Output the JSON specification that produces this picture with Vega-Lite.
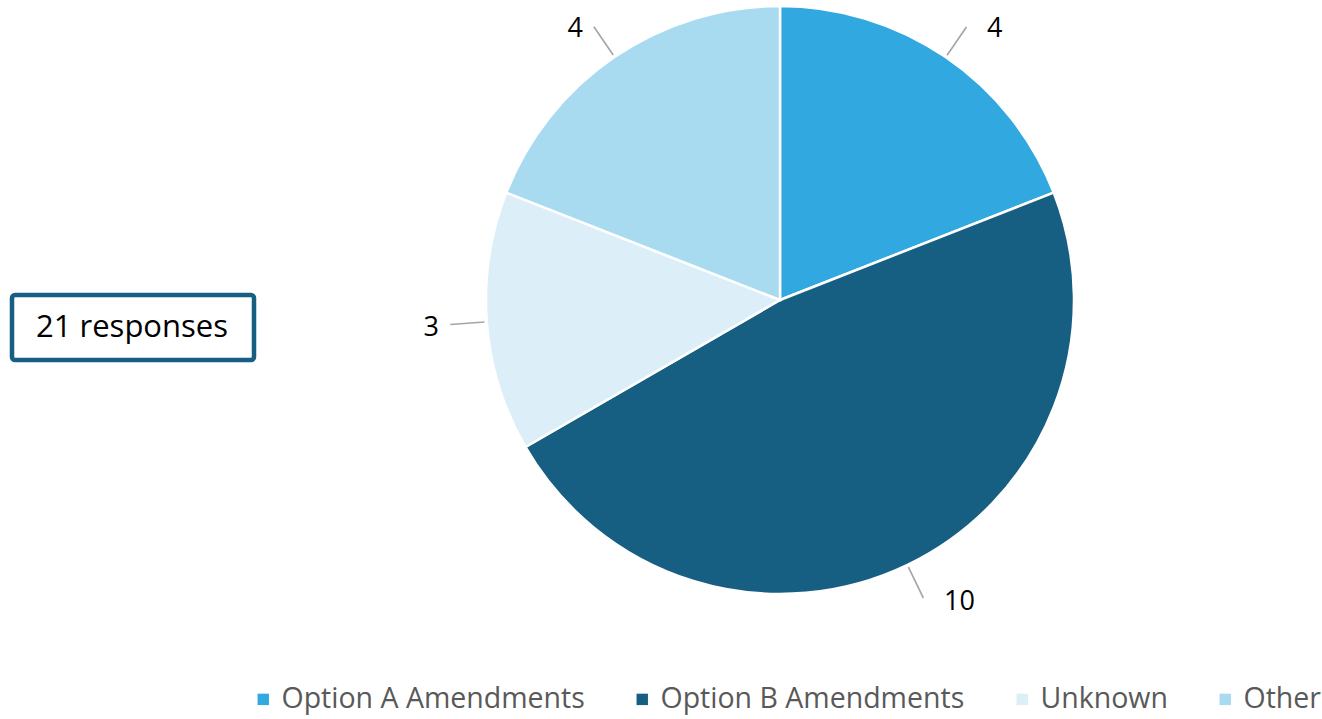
{
  "$schema": "https://vega.github.io/schema/vega-lite/v6.json",
  "width": 588,
  "height": 588,
  "autosize": {"type": "none"},
  "padding": {"left": 486, "top": 6, "right": 248, "bottom": 125},
  "background": "white",
  "config": {"view": {"stroke": null}, "font": "Open Sans"},
  "layer": [
    {
      "data": {"name": "pie", "values": [
        {"category": "Option A Amendments", "n": 4, "k": 1},
        {"category": "Option B Amendments", "n": 10, "k": 2},
        {"category": "Unknown", "n": 3, "k": 3},
        {"category": "Other", "n": 4, "k": 4}
      ]},
      "mark": {"type": "arc", "stroke": "white", "strokeWidth": 2.5},
      "encoding": {
        "theta": {"field": "n", "type": "quantitative", "stack": true, "scale": {"domain": [0, 21]}},
        "order": {"field": "k", "type": "quantitative"},
        "color": {
          "field": "category", "type": "nominal",
          "scale": {"domain": ["Option A Amendments", "Option B Amendments", "Unknown", "Other"],
                    "range": ["#31A8E0", "#175F82", "#DCEEF8", "#A9DBF0"]},
          "legend": {"orient": "none", "legendX": -237, "legendY": 679, "direction": "horizontal",
                     "title": null, "symbolType": "square", "symbolSize": 130, "symbolStrokeWidth": 0,
                     "labelFontSize": 28.5, "labelColor": "#595959", "labelFont": "Open Sans",
                     "columnPadding": 43, "labelOffset": 4, "labelLimit": 400}
        }
      }
    },
    {
      "data": {"values": [
        {"category": "Option A Amendments", "n": 4, "k": 1},
        {"category": "Option B Amendments", "n": 10, "k": 2},
        {"category": "Unknown", "n": 3, "k": 3},
        {"category": "Other", "n": 4, "k": 4}
      ]},
      "transform": [
        {"window": [{"op": "sum", "field": "n", "as": "cum"}], "sort": [{"field": "k"}], "frame": [null, 0]},
        {"calculate": "datum.cum - datum.n / 2", "as": "mid"},
        {"calculate": "datum.mid + 0.004", "as": "mid2"}
      ],
      "layer": [
        {
          "mark": {"type": "arc", "radius": 330, "radius2": 297, "fillOpacity": 0, "stroke": "#A6A6A6", "strokeWidth": 1.3},
          "encoding": {
            "theta": {"field": "mid", "type": "quantitative", "scale": {"domain": [0, 21]}},
            "theta2": {"field": "mid2"}
          }
        },
        {
          "transform": [{"filter": "datum.k <= 2"}],
          "mark": {"type": "text", "radius": 332, "align": "left", "baseline": "middle", "dx": 20, "dy": 3, "fontSize": 27, "color": "#000000", "font": "Open Sans"},
          "encoding": {
            "theta": {"field": "mid", "type": "quantitative", "scale": {"domain": [0, 21]}},
            "text": {"field": "n", "type": "quantitative"}
          }
        },
        {
          "transform": [{"filter": "datum.k > 2"}],
          "mark": {"type": "text", "radius": 332, "align": "right", "baseline": "middle", "dx": -10, "dy": 3, "fontSize": 27, "color": "#000000", "font": "Open Sans"},
          "encoding": {
            "theta": {"field": "mid", "type": "quantitative", "scale": {"domain": [0, 21]}},
            "text": {"field": "n", "type": "quantitative"}
          }
        }
      ]
    },
    {
      "data": {"values": [{"label": "21 responses"}]},
      "layer": [
        {
          "mark": {"type": "rect", "fill": "white", "stroke": "#175F82", "strokeWidth": 4.5, "cornerRadius": 3},
          "encoding": {
            "x": {"value": -474}, "x2": {"value": -232},
            "y": {"value": 289}, "y2": {"value": 354}
          }
        },
        {
          "mark": {"type": "text", "align": "center", "baseline": "middle", "fontSize": 31, "color": "#000000", "font": "Open Sans"},
          "encoding": {
            "x": {"value": -354}, "y": {"value": 322},
            "text": {"field": "label", "type": "nominal"}
          }
        }
      ]
    }
  ]
}
